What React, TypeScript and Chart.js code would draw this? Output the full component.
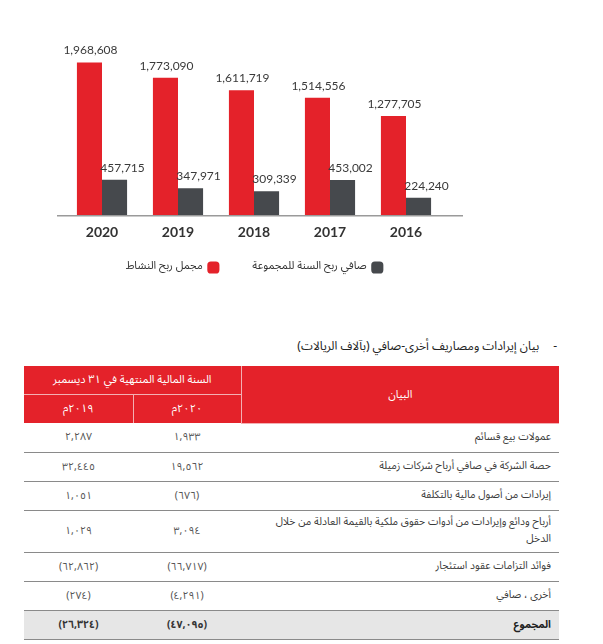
import React, { useEffect, useRef } from "react";
import { Chart, registerables } from "chart.js";

Chart.register(...registerables);

const years = ["2020", "2019", "2018", "2017", "2016"];
const grossProfit = [1968608, 1773090, 1611719, 1514556, 1277705];
const netProfit = [457715, 347971, 309339, 453002, 224240];
const seriesNames = ["مجمل ربح النشاط", "صافي ربح السنة للمجموعة"];
const seriesColors = ["#e4222a", "#46494d"];

const tableTitle = "بيان إيرادات ومصاريف أخرى-صافي (بآلاف الريالات)";
const headLabel = "البيان";
const headPeriod = "السنة المالية المنتهية في ٣١ ديسمبر";
const headYears = ["٢٠٢٠م", "٢٠١٩م"];
const rowLabels = [
  "عمولات بيع قسائم",
  "حصة الشركة في صافي أرباح شركات زميلة",
  "إيرادات من أصول مالية بالتكلفة",
  "أرباح ودائع وإيرادات من أدوات حقوق ملكية بالقيمة العادلة من خلال الدخل",
  "فوائد التزامات عقود استئجار",
  "أخرى ، صافي",
];
const values2020 = ["١,٩٣٣", "١٩,٥٦٢", "(٦٧٦)", "٣,٠٩٤", "(٦٦,٧١٧)", "(٤,٢٩١)"];
const values2019 = ["٢,٢٨٧", "٣٢,٤٤٥", "١,٠٥١", "١,٠٢٩", "(٦٢,٨٦٢)", "(٢٧٤)"];
const totalLabel = "المجموع";
const total2020 = "(٤٧,٠٩٥)";
const total2019 = "(٢٦,٣٢٤)";

const ARABIC_FONT = "'Noto Sans Arabic', 'DejaVu Sans', sans-serif";

const labelPlugin = {
  id: "valueLabels",
  afterDatasetsDraw(chart: any) {
    const ctx = chart.ctx;
    ctx.save();
    ctx.font = "12px Lato, 'Open Sans', sans-serif";
    ctx.fillStyle = "#3a3a3a";
    ctx.textAlign = "center";
    ctx.textBaseline = "bottom";
    chart.data.datasets.forEach((ds: any, di: number) => {
      const meta = chart.getDatasetMeta(di);
      meta.data.forEach((el: any, i: number) => {
        const v = ds.data[i] as number;
        const dx = di === 0 ? 1 : 8;
        ctx.fillText(v.toLocaleString("en-US"), el.x + dx, el.y - 6);
      });
    });
    ctx.restore();
  },
};

const baselinePlugin = {
  id: "baseline",
  afterDatasetsDraw(chart: any) {
    const { ctx, chartArea } = chart;
    ctx.save();
    ctx.strokeStyle = "#9a9a9a";
    ctx.lineWidth = 1.5;
    ctx.beginPath();
    ctx.moveTo(chartArea.left - 7, chartArea.bottom + 0.5);
    ctx.lineTo(chartArea.right + 19, chartArea.bottom + 0.5);
    ctx.stroke();
    ctx.restore();
  },
};

function BarChart() {
  const ref = useRef<HTMLCanvasElement | null>(null);
  useEffect(() => {
    if (!ref.current) return;
    const chart = new Chart(ref.current, {
      type: "bar",
      data: {
        labels: years,
        datasets: [
          {
            label: seriesNames[0],
            data: grossProfit,
            backgroundColor: seriesColors[0],
            barPercentage: 1,
            categoryPercentage: 0.66,
          },
          {
            label: seriesNames[1],
            data: netProfit,
            backgroundColor: seriesColors[1],
            barPercentage: 1,
            categoryPercentage: 0.66,
          },
        ],
      },
      options: {
        animation: false,
        responsive: true,
        maintainAspectRatio: false,
        layout: { padding: { left: 64, right: 159, top: 29, bottom: 6 } },
        scales: {
          x: {
            grid: { display: false, drawTicks: false },
            border: { display: false },
            ticks: {
              color: "#333",
              padding: 9,
              font: { size: 14, weight: "bold", family: "Lato, 'Open Sans', sans-serif" },
            },
          },
          y: {
            display: false,
            min: 0,
            max: 2400000,
          },
        },
        plugins: {
          legend: {
            position: "bottom",
            rtl: true,
            reverse: true,
            labels: {
              color: "#333",
              usePointStyle: true,
              pointStyle: "rectRounded",
              boxWidth: 10,
              boxHeight: 10,
              padding: 12,
              font: { size: 11, family: ARABIC_FONT },
              generateLabels(c: any) {
                const items = Chart.defaults.plugins.legend.labels.generateLabels(c);
                return items.map((it: any) =>
                  it.datasetIndex === 1 ? { ...it, text: "\u2003\u2003" + it.text } : it
                );
              },
            },
          },
          tooltip: { enabled: false },
        },
      },
      plugins: [labelPlugin, baselinePlugin],
    });
    return () => chart.destroy();
  }, []);
  return (
    <div style={{ position: "absolute", left: 0, top: 0, width: 603, height: 289 }}>
      <canvas ref={ref} />
    </div>
  );
}

const cellBase: React.CSSProperties = {
  borderBottom: "1px solid #8a8a8a",
  fontSize: 10.5,
  color: "#3a3a3a",
  padding: "0 8px",
};

export default function App() {
  const headCell: React.CSSProperties = {
    background: "#e4222a",
    color: "#fff",
    fontSize: 11,
    textAlign: "center",
    border: "1px solid #f3b0b3",
    padding: 0,
    fontWeight: "normal",
  };
  return (
    <div
      style={{
        position: "absolute",
        left: 0,
        top: 0,
        width: 603,
        height: 644,
        background: "#fff",
        fontFamily: ARABIC_FONT,
        overflow: "hidden",
      }}
    >
      <BarChart />
      <div
        dir="rtl"
        style={{
          position: "absolute",
          right: 46,
          top: 334,
          fontSize: 12,
          color: "#222",
          whiteSpace: "nowrap",
        }}
      >
        <span>-</span>
        <span style={{ marginRight: 14 }}>{tableTitle}</span>
      </div>
      <table
        dir="rtl"
        style={{
          position: "absolute",
          left: 24,
          top: 366,
          width: 535,
          borderCollapse: "collapse",
          tableLayout: "fixed",
        }}
      >
        <colgroup>
          <col style={{ width: 318 }} />
          <col style={{ width: 108 }} />
          <col style={{ width: 109 }} />
        </colgroup>
        <thead>
          <tr style={{ height: 28 }}>
            <th rowSpan={2} style={{ ...headCell, borderTop: "none", borderRight: "none" }}>
              {headLabel}
            </th>
            <th colSpan={2} style={{ ...headCell, borderTop: "none", borderLeft: "none" }}>
              {headPeriod}
            </th>
          </tr>
          <tr style={{ height: 29 }}>
            <th style={{ ...headCell, borderBottom: "none" }}>{headYears[0]}</th>
            <th style={{ ...headCell, borderBottom: "none", borderLeft: "none" }}>{headYears[1]}</th>
          </tr>
        </thead>
        <tbody>
          {rowLabels.map((lab, i) => (
            <tr key={i} style={{ height: i === 3 ? 42 : 29 }}>
              <td style={{ ...cellBase, textAlign: "right", lineHeight: "17px" }}>{lab}</td>
              <td style={{ ...cellBase, textAlign: "center", color: "#555" }}>{values2020[i]}</td>
              <td style={{ ...cellBase, textAlign: "center", color: "#555" }}>{values2019[i]}</td>
            </tr>
          ))}
          <tr style={{ height: 29, background: "#e6e6e6" }}>
            <td style={{ ...cellBase, textAlign: "right", fontWeight: "bold", color: "#222" }}>{totalLabel}</td>
            <td style={{ ...cellBase, textAlign: "center", fontWeight: "bold", color: "#333" }}>{total2020}</td>
            <td style={{ ...cellBase, textAlign: "center", fontWeight: "bold", color: "#333" }}>{total2019}</td>
          </tr>
        </tbody>
      </table>
    </div>
  );
}
